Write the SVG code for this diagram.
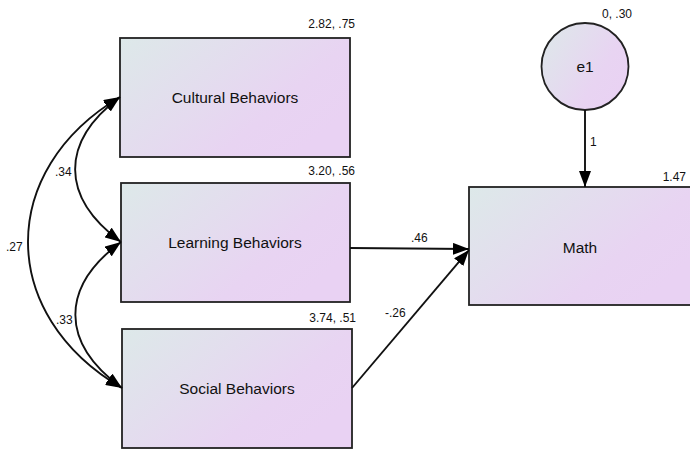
<svg xmlns="http://www.w3.org/2000/svg" width="690" height="449" viewBox="0 0 690 449">
<style>
.box{stroke:#222;stroke-width:1.8;fill:url(#g)}
.lbl{font-family:"Liberation Sans",Arial,sans-serif;font-size:15.5px;fill:#111;text-anchor:middle}
.num{font-family:"Liberation Sans",Arial,sans-serif;font-size:12px;fill:#111}
.r{text-anchor:end}
.c{fill:none;stroke:#111;stroke-width:1.9}
</style>
<defs>
<linearGradient id="g" x1="0" y1="0" x2="1" y2="0.6">
<stop offset="0" stop-color="#dde9e9"/>
<stop offset="0.75" stop-color="#e8d4f2"/>
<stop offset="1" stop-color="#e9d2f3"/>
</linearGradient>
<marker id="a" viewBox="0 0 16 12" refX="16" refY="6" markerWidth="16" markerHeight="12" markerUnits="userSpaceOnUse" orient="auto-start-reverse">
<path d="M0,0 L16,6 L0,12 Z" fill="#000"/>
</marker>
</defs>
<g id="cultural"><rect class="box" x="120" y="38" width="230" height="119"/><text class="lbl" x="235" y="103">Cultural Behaviors</text><text class="num r" x="355" y="28">2.82, .75</text></g>
<g id="learning"><rect class="box" x="121" y="183" width="229" height="119"/><text class="lbl" x="235" y="248">Learning Behaviors</text><text class="num r" x="355" y="175">3.20, .56</text></g>
<g id="social"><rect class="box" x="122" y="329" width="230" height="119"/><text class="lbl" x="237" y="394">Social Behaviors</text><text class="num r" x="356" y="322">3.74, .51</text></g>
<g id="math"><rect class="box" x="469" y="187" width="225" height="118"/><text class="lbl" x="580" y="253">Math</text><text class="num r" x="686" y="181">1.47</text></g>
<g id="e1"><circle class="box" cx="585" cy="66.5" r="43.5"/><text class="lbl" x="585" y="72">e1</text><text class="num r" x="632" y="18">0, .30</text></g>
<g id="connectors">
<path class="c" d="M120,97 C60,142 60,197 121,242" marker-start="url(#a)" marker-end="url(#a)"/>
<path class="c" d="M120,97 C-3,170 -3,315 122,388" marker-start="url(#a)" marker-end="url(#a)"/>
<path class="c" d="M121,242 C60,287 60,343 122,388" marker-start="url(#a)" marker-end="url(#a)"/>
<path class="c" d="M350,248 L469,249" marker-end="url(#a)"/>
<path class="c" d="M352,388 L469,250" marker-end="url(#a)"/>
<path class="c" d="M585,110 L585,187" marker-end="url(#a)"/>
<text class="num" x="55" y="176">.34</text>
<text class="num" x="6" y="251">.27</text>
<text class="num" x="56" y="324">.33</text>
<text class="num" x="411" y="242">.46</text>
<text class="num" x="385" y="317">-.26</text>
<text class="num" x="590" y="146">1</text>
</g>
</svg>
